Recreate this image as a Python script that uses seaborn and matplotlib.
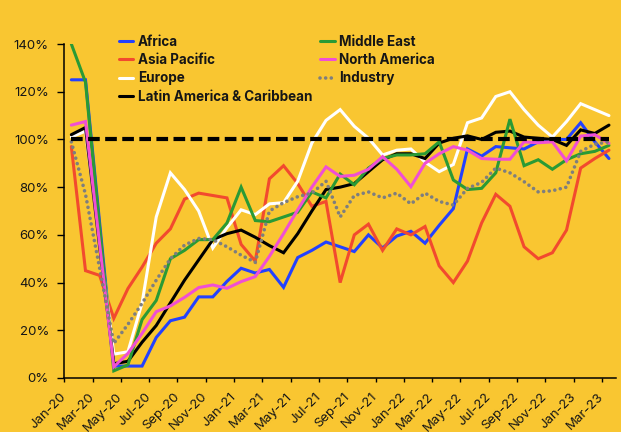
import numpy as np
import pandas as pd
import matplotlib
matplotlib.use('Agg')
import matplotlib.pyplot as plt
import seaborn as sns

# ---------------- data ----------------
months = ['Jan-20', 'Feb-20', 'Mar-20', 'Apr-20', 'May-20', 'Jun-20', 'Jul-20', 'Aug-20',
          'Sep-20', 'Oct-20', 'Nov-20', 'Dec-20', 'Jan-21', 'Feb-21', 'Mar-21', 'Apr-21',
          'May-21', 'Jun-21', 'Jul-21', 'Aug-21', 'Sep-21', 'Oct-21', 'Nov-21', 'Dec-21',
          'Jan-22', 'Feb-22', 'Mar-22', 'Apr-22', 'May-22', 'Jun-22', 'Jul-22', 'Aug-22',
          'Sep-22', 'Oct-22', 'Nov-22', 'Dec-22', 'Jan-23', 'Feb-23', 'Mar-23']

africa = [125, 125, 65, 5, 5, 5, 17, 24, 25.5, 34, 34, 40.5,
          46, 44, 45.5, 38, 50.5, 53.5, 57, 55, 53, 60, 54.5, 59.5,
          61.5, 56.5, 64, 71, 96, 93, 97, 96.5, 96, 99, 100, 100,
          107, 99, 92]
asia_pacific = [97, 45, 43, 25, 37.5, 46.5, 56.5, 62.5, 75, 77.5, 76.5, 75.5,
                56, 49, 83.5, 89, 81.5, 72, 74, 40, 60, 64.5, 53.5, 62.5,
                60, 63.5, 47, 40, 49, 65, 77, 72, 55, 50, 52.5, 62,
                88, 92, 95.5]
europe = [101, 103.5, 57, 10, 11, 31.5, 67.5, 86, 79, 70, 54.5, 63,
          70.5, 68.5, 73, 73.5, 82.5, 98.5, 108, 112.5, 105.5, 100.5, 93.5, 95.5,
          96, 90.5, 86.5, 89.5, 107, 109, 118, 120, 112.5, 106, 101, 107.5,
          115, 112.5, 110]
latam = [102, 105, 55, 6, 7, 15, 22, 31.5, 41, 49.5, 58, 60.5,
         62, 59, 55.5, 52.5, 60.5, 70, 79, 80, 81.5, 86.5, 91.5, 94,
         94, 92, 98.5, 100.5, 101.5, 100, 103, 103.5, 101, 100.5, 100, 97.5,
         104, 102.5, 106]
middle_east = [140, 124, 63, 3, 5.5, 24.5, 32.5, 50, 53.5, 58, 58, 65,
               80, 66, 65.5, 67.5, 69.5, 78, 75.5, 85.5, 81, 88, 92, 93.5,
               93.5, 94, 99, 83, 79, 79.5, 86, 108.5, 89, 91.5, 87.5, 91.5,
               94, 95, 97.5]
north_america = [106, 107.5, 56, 4.7, 10.3, 18.7, 27.8, 30.2, 33.8, 37.9, 39, 37.6,
                 40.4, 42.5, 51, 60.5, 70.5, 80, 88.5, 84.5, 85, 87.5, 92.8, 87.5,
                 80.2, 90, 94, 97, 95.5, 92, 91.7, 91.7, 99, 98.6, 99, 91,
                 101.4, 102, 98.4]
industry = [99, 77, 46, 14.5, 22.5, 31.3, 41, 50, 55.7, 58.5, 58, 55,
            51.5, 48.5, 70, 73.5, 76, 77.5, 82.5, 67.5, 76.5, 78, 75.5, 77.5,
            73, 77.5, 74, 72.5, 79.5, 82, 88, 86, 82.3, 78, 78.5, 80,
            95, 98, 99]
target_level = 100

series_names = ['Africa', 'Asia Pacific', 'Europe', 'Latin America & Caribbean',
                'Middle East', 'North America', 'Industry']
series_values = [africa, asia_pacific, europe, latam, middle_east, north_america, industry]
series_colors = ['#2341FF', '#F24A2E', '#FFFFFF', '#000000', '#2A9A35', '#F04FD4', '#7E7E7E']

y_ticks = [0, 20, 40, 60, 80, 100, 120, 140]

# ---------------- style ----------------
sns.set_theme(style='white')
plt.rcParams['font.family'] = ['Inter', 'DejaVu Sans']
BG = '#F9C631'
TXT = '#161616'

fig = plt.figure(figsize=(6.21, 4.32), dpi=100, facecolor=BG)
ax = fig.add_axes([0.1035, 0.125, 0.8885, 0.7731], facecolor=BG)

xpos = np.arange(len(months)) + 0.5
long = pd.DataFrame({
    'x': np.tile(xpos, len(series_names)),
    'value': np.concatenate([np.asarray(v, dtype=float) for v in series_values]),
    'series': np.repeat(series_names, len(months)),
})

handles = []
for name, color in zip(series_names, series_colors):
    sub = long[long['series'] == name]
    if name == 'Industry':
        sns.lineplot(data=sub, x='x', y='value', ax=ax, color=color, lw=2.6,
                     linestyle=(0, (0.01, 1.55)), dash_capstyle='round',
                     legend=False, zorder=3)
    else:
        sns.lineplot(data=sub, x='x', y='value', ax=ax, color=color, lw=2.2,
                     legend=False, zorder=3, solid_joinstyle='miter')
    handles.append(ax.lines[-1])

ref = pd.DataFrame({'x': xpos, 'value': [target_level] * len(months)})
sns.lineplot(data=ref, x='x', y='value', ax=ax, color='black', lw=3.0,
             linestyle=(0, (2.8, 1.3)), legend=False, zorder=4)

ax.set_xlim(0, len(months))
ax.set_ylim(0, 140)
ax.set_xlabel('')
ax.set_ylabel('')

ax.set_yticks(y_ticks)
ax.set_yticklabels([f'{v}%' for v in y_ticks], fontsize=9.5, color=TXT)
tick_pos = np.arange(0, len(months), 2)
ax.set_xticks(tick_pos)
ax.set_xticklabels([months[i] for i in tick_pos], fontsize=9.5, color=TXT,
                   rotation=45, ha='right', va='center', rotation_mode='anchor')

ax.tick_params(axis='y', direction='out', length=5, width=1, color='black', pad=6, left=True)
ax.tick_params(axis='x', direction='out', length=3, width=1, color='black', pad=9, bottom=True)

for s in ['top', 'right']:
    ax.spines[s].set_visible(False)
for s in ['left', 'bottom']:
    ax.spines[s].set_color('black')
    ax.spines[s].set_linewidth(1.1)

leg = ax.legend(handles, series_names, ncol=2, frameon=False, loc='upper left',
                bbox_to_anchor=(119 / 621, 1 - 34.5 / 432), bbox_transform=fig.transFigure,
                prop=dict(weight='bold', size=9.7), handlelength=1.05, handletextpad=0.35,
                columnspacing=0.6, labelspacing=0.33, borderpad=0, borderaxespad=0)
for t in leg.get_texts():
    t.set_color(TXT)

fig.savefig('out.png', dpi=100, facecolor=BG)
